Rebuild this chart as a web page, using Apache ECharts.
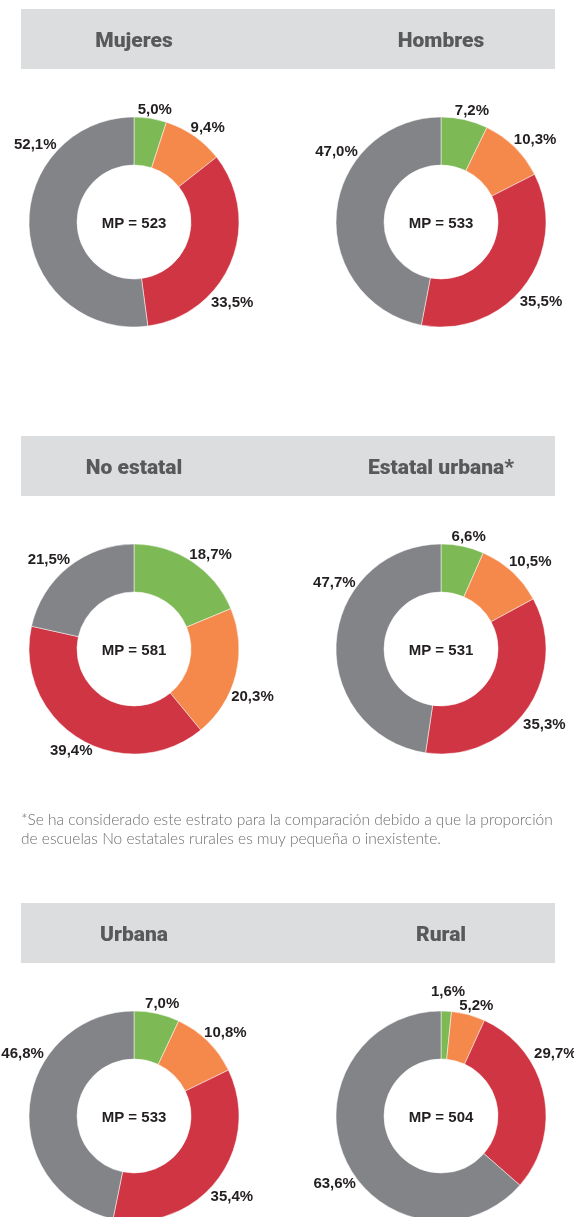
<!DOCTYPE html>
<html>
<head>
<meta charset="utf-8">
<script src="https://cdn.jsdelivr.net/npm/echarts@6/dist/echarts.min.js"></script>
<style>
  html, body { margin: 0; padding: 0; background: #ffffff; }
  #chart { width: 574px; height: 1217px; }
</style>
</head>
<body>
<div id="chart"></div>
<script>
// grupos comparados (fila por fila, de izquierda a derecha)
const groups = ["Mujeres", "Hombres", "No estatal", "Estatal urbana*", "Urbana", "Rural"];
const medidaPromedio = [523, 533, 581, 531, 533, 504];

// niveles de logro, en sentido horario desde arriba
const levels = ["Satisfactorio", "En proceso", "En inicio", "Previo al inicio"];
const satisfactorio = [5.0, 7.2, 18.7, 6.6, 7.0, 1.6];
const enProceso = [9.4, 10.3, 20.3, 10.5, 10.8, 5.2];
const enInicio = [33.5, 35.5, 39.4, 35.3, 35.4, 29.7];
const previoInicio = [52.1, 47.0, 21.5, 47.7, 46.8, 63.6];

const footnote = [
  "*Se ha considerado este estrato para la comparación debido a que la proporción",
  "de escuelas No estatales rurales es muy pequeña o inexistente."
];

// estilo y maquetación
const levelColors = ["#7db955", "#f4894b", "#d03543", "#838488"];
const colX = [134, 441];
const rowY = [222, 649, 1116];
const headerTop = [9, 436, 903];
const innerR = 57;
const outerR = 105;
const labelR = 120;
// ajuste manual de cada etiqueta (px), como en el original
const labelNudge = [
  [[2, 6], [5, 4], [-13, 36], [21, -85]],
  [[4, 6], [10, 4], [4, 8], [15, -59]],
  [[10, 6], [2, 19], [0, 0], [-10, 4]],
  [[3, 5], [8, 1], [5, 7], [13, -57]],
  [[2, 5], [7, 2], [3, 7], [8, -50]],
  [[1, -4], [4, 6], [-3, -37], [3, 18]]
];

function pct(v) {
  return v.toFixed(1).replace(".", ",") + "%";
}

function groupValues(i) {
  return [satisfactorio[i], enProceso[i], enInicio[i], previoInicio[i]];
}

let myChart = echarts.init(document.getElementById("chart"));

let graphics = [];
let series = [];

headerTop.forEach(function (top) {
  graphics.push({
    type: "rect",
    shape: { x: 21, y: top, width: 534, height: 60 },
    style: { fill: "#dcdddf" },
    silent: true
  });
});

graphics.push({
  type: "text",
  x: 21,
  y: 810,
  style: {
    text: footnote.join("\n"),
    font: "300 15.5px Lato",
    lineHeight: 19,
    fill: "#6d6e71"
  }
});

groups.forEach(function (name, i) {
  let cx = colX[i % 2];
  let cy = rowY[Math.floor(i / 2)];
  let top = headerTop[Math.floor(i / 2)];

  graphics.push({
    type: "text",
    x: cx,
    y: top + 33,
    style: {
      text: name,
      font: "900 21px Roboto",
      fill: "#58595b",
      align: "center",
      verticalAlign: "middle"
    }
  });
  graphics.push({
    type: "text",
    x: cx,
    y: cy + 2,
    style: {
      text: "MP = " + medidaPromedio[i],
      font: "bold 15px 'Liberation Sans'",
      fill: "#231f20",
      align: "center",
      verticalAlign: "middle"
    }
  });

  let values = groupValues(i);
  let total = values.reduce(function (a, b) { return a + b; }, 0);

  series.push({
    name: name,
    type: "pie",
    center: [cx, cy],
    radius: [innerR, outerR],
    startAngle: 90,
    clockwise: true,
    silent: true,
    avoidLabelOverlap: false,
    itemStyle: { borderColor: "#ffffff", borderWidth: 0.5 },
    label: {
      show: true,
      position: "inside",
      formatter: function (p) { return pct(p.value); },
      fontFamily: "Liberation Sans",
      fontWeight: "bold",
      fontSize: 15,
      color: "#231f20"
    },
    labelLine: { show: false },
    labelLayout: function (p) {
      // ángulo medio del sector, medido en sentido horario desde arriba
      let before = 0;
      for (let k = 0; k < p.dataIndex; k++) before += values[k];
      let theta = (before + values[p.dataIndex] / 2) / total * 2 * Math.PI;
      let n = labelNudge[i][p.dataIndex];
      return {
        x: cx + labelR * Math.sin(theta) + n[0],
        y: cy - labelR * Math.cos(theta) + n[1],
        align: "center",
        verticalAlign: "middle"
      };
    },
    data: values.map(function (v, k) {
      return { name: levels[k], value: v, itemStyle: { color: levelColors[k] } };
    })
  });
});

myChart.setOption({
  animation: false,
  backgroundColor: "#ffffff",
  graphic: graphics,
  series: series
});

window.addEventListener("resize", function () {
  myChart.resize();
});
</script>
</body>
</html>
